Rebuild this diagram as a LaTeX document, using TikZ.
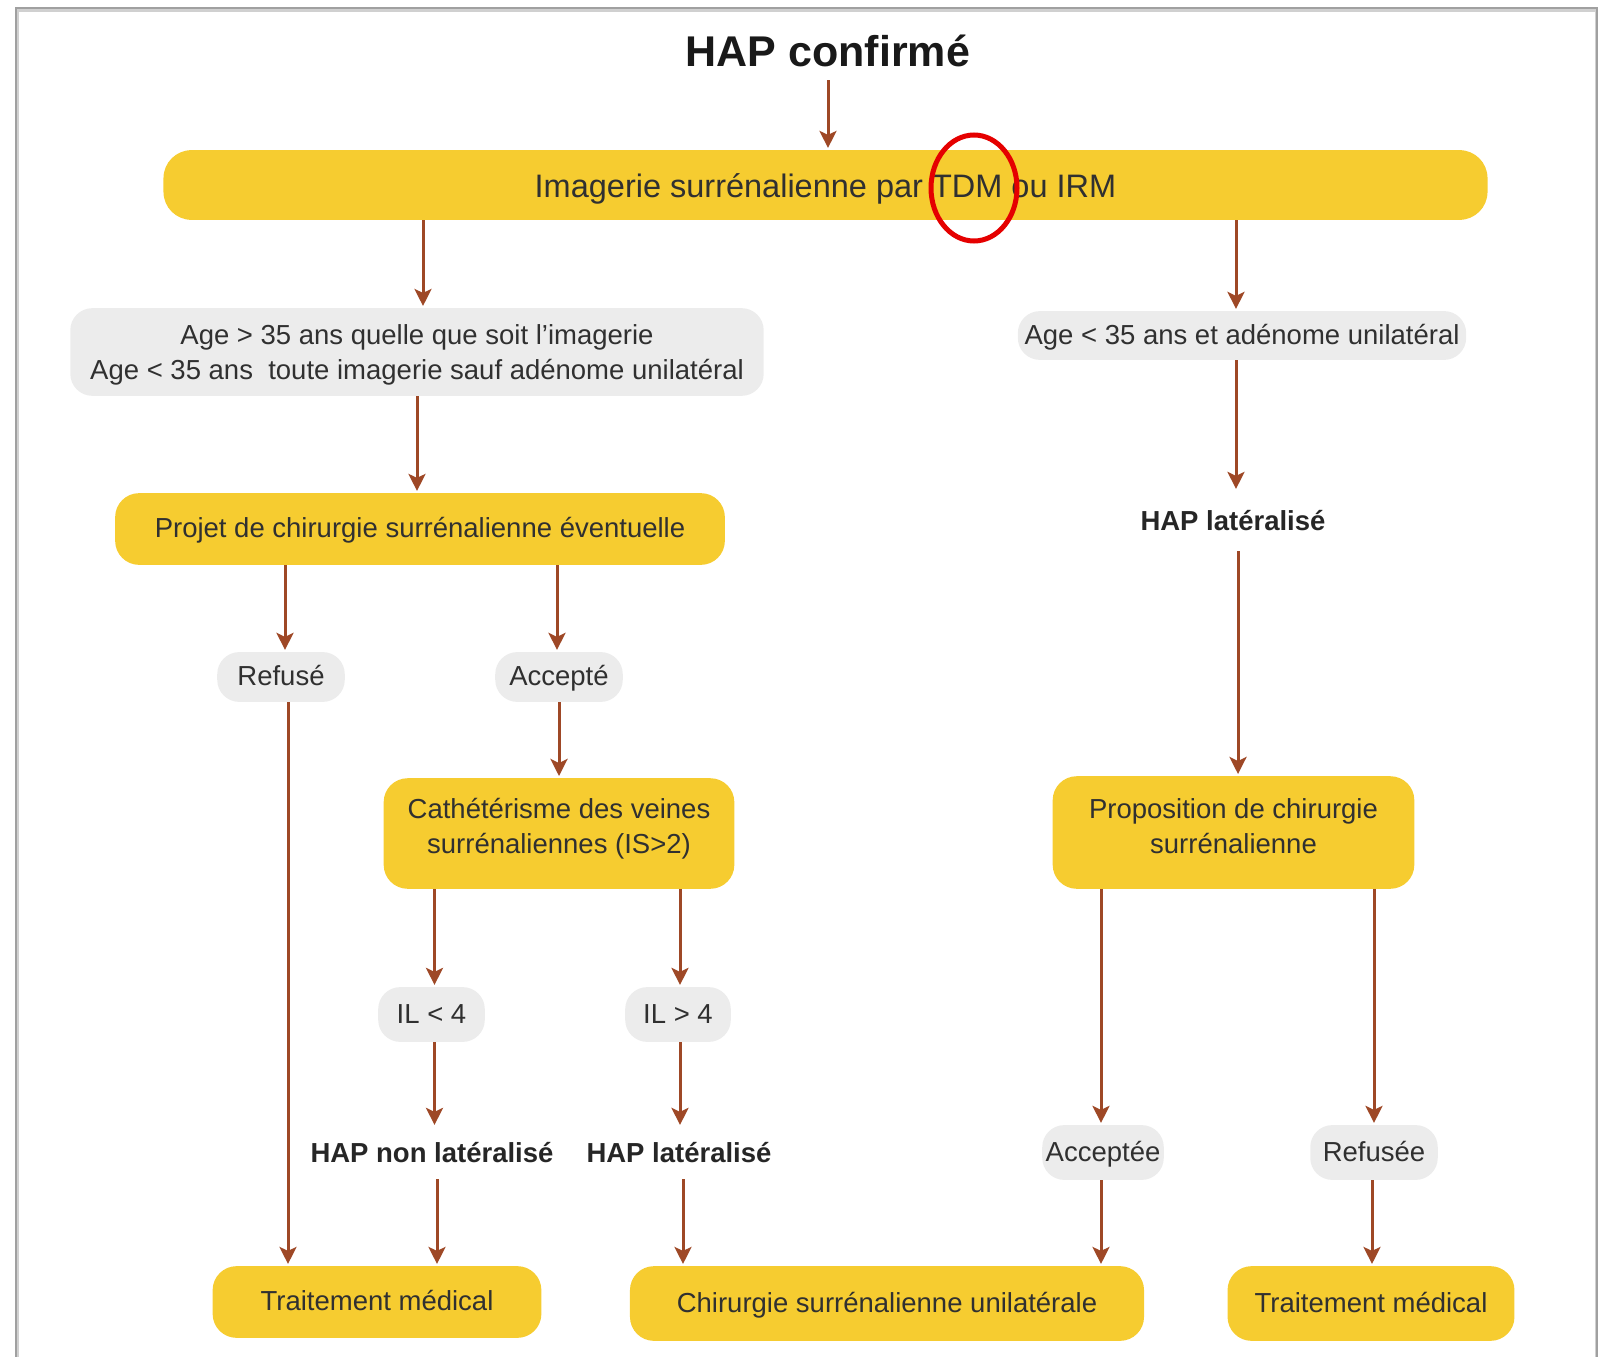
\documentclass[tikz,border=0pt]{standalone}
\usepackage{fontspec}
\setmainfont{Liberation Sans}
\usetikzlibrary{arrows.meta}
\definecolor{boxyellow}{RGB}{246,204,48}
\definecolor{boxgray}{RGB}{236,236,236}
\definecolor{arrowbrown}{RGB}{158,72,38}
\definecolor{txt}{RGB}{48,48,48}
\definecolor{framegray}{RGB}{160,160,160}
\tikzset{
  ybox/.style={fill=boxyellow, rounded corners=24bp, text=txt, align=center, inner sep=0pt,
    font=\fontsize{27.5bp}{35bp}\selectfont},
  gbox/.style={fill=boxgray, rounded corners=22bp, text=txt, align=center, inner sep=0pt,
    font=\fontsize{27.5bp}{35bp}\selectfont},
  oneline/.style={text height=17bp, text depth=0bp},
  blabel/.style={text=black!85, inner sep=0pt, font=\fontsize{27.5bp}{33bp}\selectfont\bfseries},
  arr/.style={draw=arrowbrown, line width=3bp, shorten >=2bp,
    -{Stealth[length=17bp, width=17bp, inset=4bp]}}
}
\begin{document}
\begin{tikzpicture}[x=1bp, y=-1bp]
\useasboundingbox (0,0) rectangle (1611,1357);
% frame
\draw[framegray!50, line width=3bp] (17,1360) -- (17,11) -- (1596,11) -- (1596,1360);
\draw[framegray, line width=2.5bp] (16,1360) -- (16,8) -- (1597,8) -- (1597,1360);

% nodes
\node[text=black!90, inner sep=0pt, minimum height=58, font=\fontsize{43bp}{48bp}\selectfont\bfseries] (title) at (828,51) {HAP confirmé};
\node[ybox, rounded corners=28bp, minimum width=1329, minimum height=70, text height=25bp, text depth=0bp, font=\fontsize{32.5bp}{38bp}\selectfont] (box1) at (825.5,185) {Imagerie surrénalienne par TDM ou IRM};
\node[gbox, minimum width=696, minimum height=88, text height=61bp, text depth=5.8bp] (ageA) at (417,352) {Age > 35 ans quelle que soit l’imagerie\\Age < 35 ans\ \ toute imagerie sauf adénome unilatéral};
\node[gbox, oneline, minimum width=450, minimum height=49] (ageB) at (1242,335.5) {Age < 35 ans et adénome unilatéral};
\node[ybox, oneline, minimum width=612, minimum height=72] (projet) at (420,529) {Projet de chirurgie surrénalienne éventuelle};
\node[blabel, minimum height=60] (hapR) at (1233,521) {HAP latéralisé};
\node[gbox, oneline, minimum width=128, minimum height=50] (refuse) at (281,677) {Refusé};
\node[gbox, oneline, minimum width=128, minimum height=50] (accepte) at (559,677) {Accepté};
\node[ybox, minimum width=352, minimum height=111, text height=45.8bp, text depth=5.8bp] (cath) at (559,833.5) {Cathétérisme des veines\\surrénaliennes (IS>2)};
\node[ybox, minimum width=363, minimum height=113, text height=47.8bp, text depth=5.8bp] (prop) at (1233.5,832.5) {Proposition de chirurgie\\surrénalienne};
\node[gbox, oneline, minimum width=107, minimum height=55] (ilA) at (431.5,1014.5) {IL < 4};
\node[gbox, oneline, minimum width=106, minimum height=55] (ilB) at (678,1014.5) {IL > 4};
\node[blabel, minimum height=52] (hapNL) at (432,1153) {HAP non latéralisé};
\node[blabel, minimum height=52] (hapL) at (679,1153) {HAP latéralisé};
\node[gbox, oneline, minimum width=122, minimum height=55] (acc2) at (1103,1152.5) {Acceptée};
\node[gbox, oneline, minimum width=128, minimum height=55] (ref2) at (1374,1152.5) {Refusée};
\node[ybox, oneline, minimum width=330, minimum height=72] (tm1) at (377,1302) {Traitement médical};
\node[ybox, oneline, minimum width=516, minimum height=75] (chir) at (887,1303.5) {Chirurgie surrénalienne unilatérale};
\node[ybox, oneline, minimum width=288, minimum height=75] (tm2) at (1371,1303.5) {Traitement médical};

% connectors
\draw[arr] (title.south) -- (title.south |- box1.north);
\draw[arr] ([xshift=6bp]ageA.north |- box1.south) -- ([xshift=6bp]ageA.north);
\draw[arr] ([xshift=-6bp]ageB.north |- box1.south) -- ([xshift=-6bp]ageB.north);
\draw[arr] (ageA.south) -- (ageA.south |- projet.north);
\draw[arr] ([xshift=3bp]hapR.north |- ageB.south) -- ([xshift=3bp]hapR.north);
\draw[arr] ([xshift=5bp]hapR.south) -- ([xshift=5bp]hapR.south |- prop.north);
\draw[arr] ([xshift=4bp]refuse.north |- projet.south) -- ([xshift=4bp]refuse.north);
\draw[arr] ([xshift=-2bp]accepte.north |- projet.south) -- ([xshift=-2bp]accepte.north);
\draw[arr] ([xshift=7bp]refuse.south) -- ([xshift=7bp]refuse.south |- tm1.north);
\draw[arr] (accepte.south) -- (cath.north);
\draw[arr] ([xshift=3bp]ilA.north |- cath.south) -- ([xshift=3bp]ilA.north);
\draw[arr] ([xshift=2bp]ilB.north |- cath.south) -- ([xshift=2bp]ilB.north);
\draw[arr] ([xshift=3bp]ilA.south) -- ([xshift=3bp]ilA.south |- hapNL.north);
\draw[arr] ([xshift=2bp]ilB.south) -- ([xshift=2bp]ilB.south |- hapL.north);
\draw[arr] ([xshift=5bp]hapNL.south) -- ([xshift=5bp]hapNL.south |- tm1.north);
\draw[arr] ([xshift=4bp]hapL.south) -- ([xshift=4bp]hapL.south |- chir.north);
\draw[arr] ([xshift=-2bp]acc2.north |- prop.south) -- ([xshift=-2bp]acc2.north);
\draw[arr] (ref2.north |- prop.south) -- (ref2.north);
\draw[arr] ([xshift=-2bp]acc2.south) -- ([xshift=-2bp]acc2.south |- chir.north);
\draw[arr] ([xshift=-2bp]ref2.south) -- ([xshift=-2bp]ref2.south |- tm2.north);

% red highlight
\draw[red!90!black, line width=5bp] (974,188) ellipse [x radius=43, y radius=53];
\end{tikzpicture}
\end{document}
